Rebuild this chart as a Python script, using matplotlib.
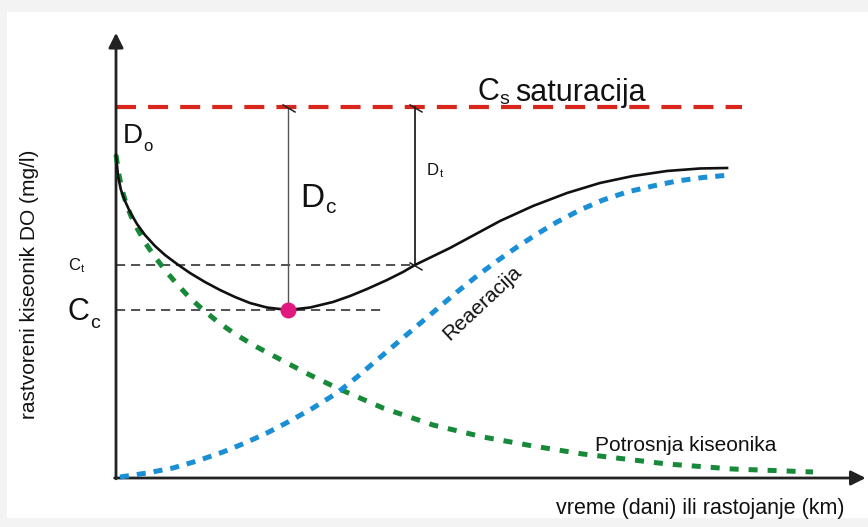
import matplotlib.pyplot as plt
from matplotlib.patches import Rectangle

plt.rcParams['font.family'] = ['Liberation Sans', 'DejaVu Sans']

# ---------------- data (x: time units, y: DO mg/l) ----------------
do_x = [0.000, 0.029, 0.071, 0.129, 0.200, 0.300, 0.414, 0.557, 0.700, 0.871,
        1.057, 1.271, 1.486, 1.700, 1.914, 2.157, 2.457, 2.771, 3.100, 3.343,
        3.586, 3.871, 4.100, 4.271, 4.771, 5.486, 5.957, 6.443, 6.914, 7.386,
        7.871, 8.343, 8.729]
do_y = [7.836, 7.327, 6.987, 6.720, 6.453, 6.162, 5.895, 5.628, 5.410, 5.192,
        4.973, 4.755, 4.561, 4.391, 4.245, 4.136, 4.076, 4.136, 4.270, 4.415,
        4.585, 4.803, 4.998, 5.168, 5.580, 6.235, 6.599, 6.914, 7.157, 7.327,
        7.448, 7.509, 7.521]

use_x = [0.000, 0.043, 0.086, 0.143, 0.214, 0.314, 0.429, 0.557, 0.700, 0.857,
         1.029, 1.229, 1.457, 1.700, 1.986, 2.443, 2.771, 3.157, 3.814, 4.529,
         5.243, 5.957, 6.671, 7.871, 8.814, 9.957]
use_y = [7.836, 7.351, 6.987, 6.671, 6.356, 6.016, 5.677, 5.361, 5.046, 4.731,
         4.415, 4.100, 3.785, 3.493, 3.202, 2.790, 2.499, 2.183, 1.698, 1.286,
         0.995, 0.776, 0.582, 0.340, 0.218, 0.146]

rea_x = [0.057, 0.443, 0.814, 1.157, 1.529, 1.843, 2.157, 2.486, 2.814, 3.157,
         3.443, 3.729, 4.014, 4.300, 4.586, 4.871, 5.157, 5.443, 5.729, 6.014,
         6.300, 6.629, 6.957, 7.300, 7.671, 8.014, 8.386, 8.771]
rea_y = [0.024, 0.121, 0.243, 0.412, 0.631, 0.849, 1.092, 1.383, 1.698, 2.062,
         2.450, 2.863, 3.275, 3.688, 4.100, 4.512, 4.901, 5.264, 5.604, 5.919,
         6.211, 6.502, 6.744, 6.938, 7.084, 7.205, 7.290, 7.351]

cs = 9.0                 # saturation
sat_end = 8.94
x_c, c_c = 2.457, 4.076  # critical point
x_t, c_t = 4.271, 5.168  # time t
cc_line_end = 3.83

# ---------------- figure ----------------
fig = plt.figure(figsize=(8.68, 5.27), dpi=100)
fig.patch.set_facecolor('#f3f3f3')
ax = fig.add_axes([0, 0, 1, 1])
ax.set_xlim(-116 / 70, 752 / 70)
ax.set_ylim(-49 / 41.22, 478 / 41.22)
ax.axis('off')
ax.add_patch(Rectangle((0.0075, 0.017), 0.995, 0.96, transform=ax.transAxes,
                       facecolor='white', edgecolor='none', zorder=0))

# axes arrows
arrow_kw = dict(arrowstyle='-|>', lw=2, color='#222222', mutation_scale=22,
                shrinkA=0, shrinkB=0)
ax.annotate('', xy=(0, 10.80), xytext=(0, -0.02), arrowprops=arrow_kw)
ax.annotate('', xy=(10.71, 0), xytext=(-0.02, 0), arrowprops=arrow_kw)

# saturation
ax.plot([0, sat_end], [cs, cs], color='#d8261d', lw=3.0,
        linestyle=(0, (4.8, 2.9)), dash_capstyle='butt')

# curves
ax.plot(use_x, use_y, color='#178a3a', lw=3.6, linestyle=(0, (1.8, 2.0)),
        dash_capstyle='butt', zorder=3)
ax.plot(rea_x, rea_y, color='#1b8fd6', lw=3.6, linestyle=(0, (1.8, 1.6)),
        dash_capstyle='butt', zorder=3)
ax.plot(do_x, do_y, color='#111111', lw=1.9, zorder=4,
        solid_joinstyle='round')

# guide lines
ax.plot([0, x_t], [c_t, c_t], color='#333333', lw=1.2,
        linestyle=(0, (5.5, 3.5)), zorder=2)
ax.plot([0, cc_line_end], [c_c, c_c], color='#333333', lw=1.2,
        linestyle=(0, (5.5, 3.5)), zorder=2)
ax.plot([x_c, x_c], [c_c, cs], color='#555555', lw=1.0, zorder=2)
ax.plot([x_t, x_t], [c_t, cs], color='#222222', lw=1.3, zorder=2)
for xx, yy in [(x_c, cs), (x_t, cs), (x_t, c_t)]:
    ax.plot([xx - 0.07, xx + 0.10], [yy + 0.05, yy - 0.12], color='#222222',
            lw=1.1, zorder=5)

ax.scatter([x_c], [c_c], s=110, color='#e0187f', zorder=6)


def sub_label(x, y, main, sub, size, subsize, dy=0.0, rest=''):
    t = ax.text(x, y, main, fontsize=size, color='#111111',
                ha='left', va='baseline')
    s = ax.annotate(sub, xy=(1, 0), xycoords=t, xytext=(0.5, dy),
                    textcoords='offset points', fontsize=subsize,
                    color='#111111', ha='left', va='baseline')
    if rest:
        ax.annotate(rest, xy=(1, 0), xycoords=(s, t),
                    xytext=(4, 0.212 * size), textcoords='offset points',
                    fontsize=size, color='#111111', ha='left', va='baseline')


# labels
sub_label(5.16, 9.17, 'C', 's', 22, 14, 2.5, rest='saturacija')
sub_label(0.09, 8.13, 'D', 'o', 20, 12, -1.6)
sub_label(2.63, 6.57, 'D', 'c', 24, 15, 0.7)
sub_label(4.44, 7.35, 'D', 't', 12, 8, 0.5)
sub_label(-0.69, 5.05, 'C', 't', 12, 8, 0.5)
sub_label(-0.69, 3.83, 'C', 'c', 22, 14, -0.4)

ax.text(5.23, 4.25, 'Reaeracija', fontsize=15, color='#111111', rotation=43,
        rotation_mode='anchor', ha='center', va='center')
ax.text(6.84, 0.78, 'Potrosnja kiseonika', fontsize=15, color='#111111',
        ha='left', va='center')
ax.text(-1.23, 4.71, 'rastvoreni kiseonik DO (mg/l)', fontsize=15,
        color='#111111', rotation=90, ha='center', va='center')
ax.text(10.41, -0.73, 'vreme (dani) ili rastojanje (km)', fontsize=15.5,
        color='#111111', ha='right', va='center')

fig.savefig('out.png', dpi=100)
